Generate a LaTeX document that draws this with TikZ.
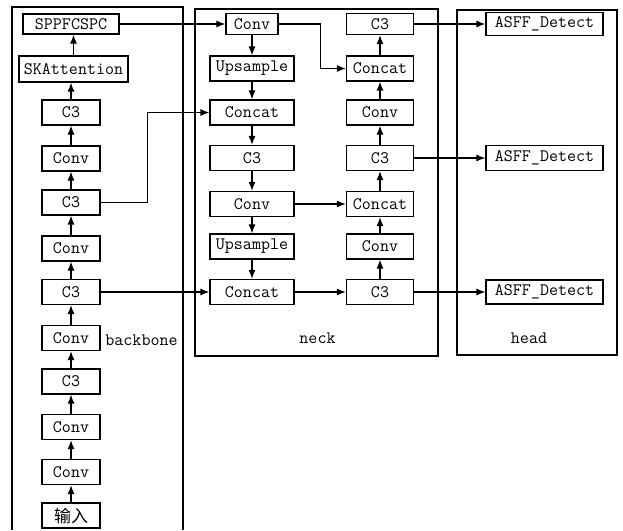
\documentclass[tikz,border=0pt]{standalone}
\usepackage{fontspec}
\newfontfamily\cjk{Noto Sans CJK SC}
\usetikzlibrary{arrows.meta,calc}

\begin{document}
\begin{tikzpicture}[x=1pt,y=-1pt,line width=1.2pt,
  blk/.style={draw,inner sep=0pt,minimum width=58pt,minimum height=25pt,font=\ttfamily\fontsize{17.5}{19}\selectfont},
  wblk/.style={blk,minimum width=84pt},
  rblk/.style={blk,minimum width=67pt},
  hblk/.style={blk,minimum width=117pt},
  lbl/.style={inner sep=0pt,font=\ttfamily\fontsize{17.5}{19}\selectfont},
  arr/.style={-{Latex[length=9pt,width=7pt]}}]
\useasboundingbox (0,0) rectangle (623,530);

\draw (12,530) -- (12,7) -- (183,7) -- (183,530);
\draw (195,9) rectangle (438,356);
\draw (457,10) rectangle (617,355);

\node[blk,minimum width=96pt,minimum height=20pt] (spp) at (71,24) {SPPFCSPC};
\node[blk,minimum width=109pt,minimum height=26pt] (ska) at (73.5,69) {SKAttention};
\node[blk] (bc1) at (71,112.5) {C3};
\node[blk] (bv1) at (71,158.5) {Conv};
\node[blk] (bc2) at (71,202.5) {C3};
\node[blk] (bv2) at (71,248.5) {Conv};
\node[blk] (bc3) at (71,292) {C3};
\node[blk] (bv3) at (71,338) {Conv};
\node[blk] (bc4) at (71,381.5) {C3};
\node[blk] (bv4) at (71,427) {Conv};
\node[blk] (bv5) at (71,472) {Conv};
\node[blk,font=\cjk\fontsize{17}{19}\selectfont] (inp) at (71,515.5) {输入};
\node[lbl] at (141.5,340) {backbone};

\foreach \a/\b in {inp/bv5,bv5/bv4,bv4/bc4,bc4/bv3,bv3/bc3,bc3/bv2,bv2/bc2,bc2/bv1,bv1/bc1,bc1/ska,ska/spp}
  \draw[arr] (\a.north) -- (\a.north |- \b.south);

% neck
\node[blk,minimum width=52pt,minimum height=21pt] (nv1) at (252,24) {Conv};
\node[wblk] (nu1) at (252,68.5) {Upsample};
\node[wblk] (nk1) at (252,112.5) {Concat};
\node[wblk] (nc1) at (252,158) {C3};
\node[wblk] (nv2) at (252,204) {Conv};
\node[wblk] (nu2) at (252,246.5) {Upsample};
\node[wblk] (nk2) at (252,292) {Concat};

\node[rblk,minimum height=21pt] (mc1) at (380,24) {C3};
\node[rblk] (mk1) at (380,68.5) {Concat};
\node[rblk] (mv1) at (380,112.5) {Conv};
\node[rblk] (mc2) at (380,158) {C3};
\node[rblk] (mk2) at (380,204) {Concat};
\node[rblk] (mv2) at (380,246.5) {Conv};
\node[rblk] (mc3) at (380,292) {C3};
\node[lbl] at (317.5,338) {neck};

\foreach \a/\b in {nv1/nu1,nu1/nk1,nk1/nc1,nc1/nv2,nv2/nu2,nu2/nk2}
  \draw[arr] (\a) -- (\b);
\foreach \a/\b in {mc3/mv2,mv2/mk2,mk2/mc2,mc2/mv1,mv1/mk1,mk1/mc1}
  \draw[arr] (\a) -- (\b);

% head
\node[hblk,minimum height=23pt] (hd1) at (544.5,24) {ASFF\_Detect};
\node[hblk] (hd2) at (544.5,158) {ASFF\_Detect};
\node[hblk,minimum height=24pt] (hd3) at (544.5,292) {ASFF\_Detect};
\node[lbl] at (529,338) {head};

\draw[arr] (spp) -- (nv1);
\draw[arr] (nv1.east) -- ++(42,0) |- (mk1.west);
\draw[arr] (bc2.east) -- ++(47,0) |- (nk1.west);
\draw[arr] (bc3) -- (nk2);
\draw[arr] (nk2) -- (mc3);
\draw[arr] (nv2) -- (mk2);
\draw[arr] (mc1) -- (hd1);
\draw[arr] (mc2) -- (hd2);
\draw[arr] (mc3) -- (hd3);

\end{tikzpicture}
\end{document}
